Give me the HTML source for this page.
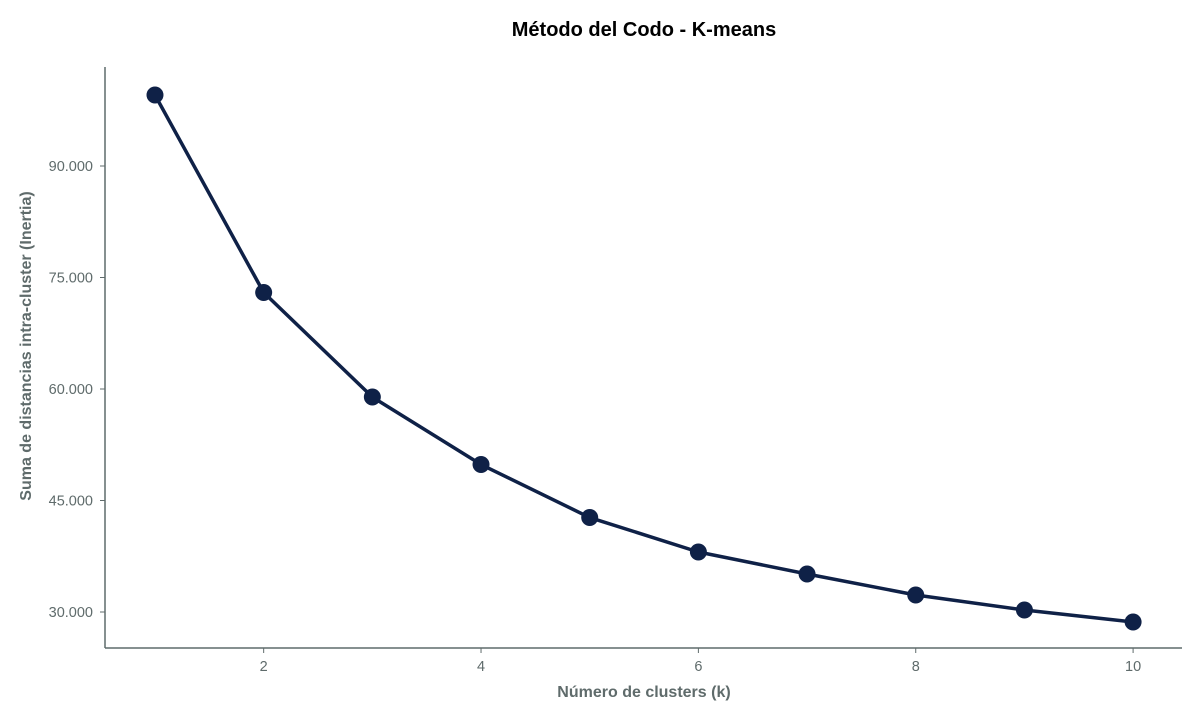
<!DOCTYPE html>
<html><head><meta charset="utf-8"><style>
body{margin:0;background:#fff;}
svg{display:block;font-family:"Liberation Sans",Arial,sans-serif;}
</style></head><body>
<svg id="chart" width="1200" height="719">
<text x="644" y="36" text-anchor="middle" font-size="20" font-weight="bold" fill="#000">Método del Codo - K-means</text>
<g id="axes"></g>
<g id="marks"></g>
<text x="644" y="697" text-anchor="middle" font-size="16" font-weight="bold" fill="#5f6b6b">Número de clusters (k)</text>
<text transform="translate(31,346) rotate(-90)" text-anchor="middle" font-size="16" font-weight="bold" fill="#5f6b6b">Suma de distancias intra-cluster (Inertia)</text>
</svg>
<script>
const kValues=[1,2,3,4,5,6,7,8,9,10];
const inertia=[99550,72980,58920,49840,42710,38070,35110,32290,30270,28650];
const xTicks=[2,4,6,8,10];
const yTicks=[30000,45000,60000,75000,90000];
const yTickLabels=["30.000","45.000","60.000","75.000","90.000"];

const L=105,R=1182,T=67,B=648;
const xMin=0.54,xMax=10.45,yMin=25157,yMax=103318;
const xs=v=>L+(v-xMin)/(xMax-xMin)*(R-L);
const ys=v=>B-(v-yMin)/(yMax-yMin)*(B-T);
const NS="http://www.w3.org/2000/svg";
const axes=document.getElementById('axes'),marks=document.getElementById('marks');
function mk(tag,attrs,parent){const e=document.createElementNS(NS,tag);for(const k in attrs)e.setAttribute(k,attrs[k]);parent.appendChild(e);return e;}
const ly=mk('line',{x1:L,y1:T,x2:L,y2:B,stroke:'#5f6b6b','stroke-width':1.5},axes);


const lx=mk('line',{x1:L,y1:B,x2:R,y2:B,stroke:'#5f6b6b','stroke-width':1.5},axes);


xTicks.forEach(t=>{
  const x=xs(t);
  mk('line',{x1:x,y1:B,x2:x,y2:B+5,stroke:'#5f6b6b','stroke-width':1},axes);
  const tx=mk('text',{x:x,y:B+23,'text-anchor':'middle','font-size':14.5,fill:'#5f6b6b'},axes);
  tx.textContent=t;
  
  
});
yTicks.forEach((t,i)=>{
  const y=ys(t);
  mk('line',{x1:L-5,y1:y,x2:L,y2:y,stroke:'#5f6b6b','stroke-width':1},axes);
  const tx=mk('text',{x:L-12,y:y+5,'text-anchor':'end','font-size':14.5,fill:'#5f6b6b'},axes);
  tx.textContent=yTickLabels[i];
  
  
});
const pts=kValues.map((k,i)=>xs(k)+','+ys(inertia[i])).join(' ');
const line=mk('polyline',{points:pts,fill:'none',stroke:'#0f2147','stroke-width':3.5,'stroke-linejoin':'round'},marks);


kValues.forEach((k,i)=>{
  const c=mk('circle',{cx:xs(k),cy:ys(inertia[i]),r:8.5,fill:'#0f2147'},marks);
  
  
});
</script>
</body></html>
